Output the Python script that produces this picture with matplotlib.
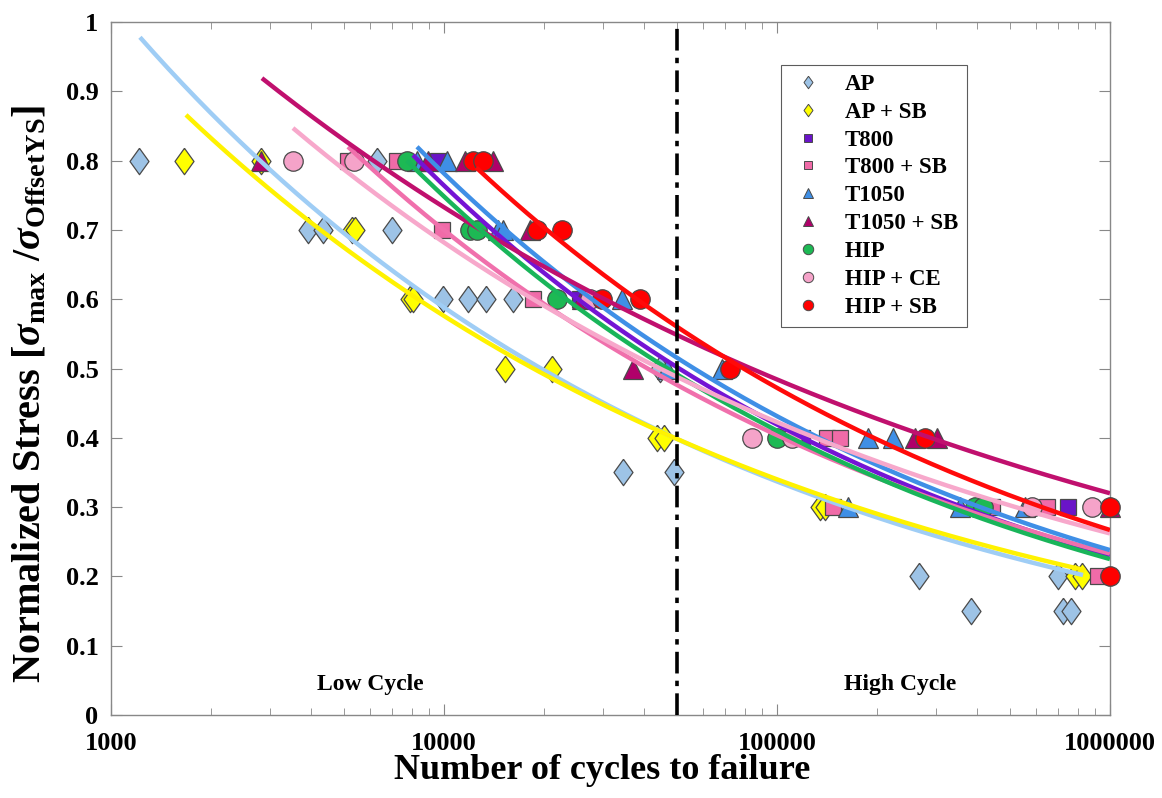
import numpy as np
import matplotlib
matplotlib.use("Agg")
import matplotlib.pyplot as plt
from matplotlib.lines import Line2D
from matplotlib.ticker import FixedLocator, FixedFormatter, LogLocator, NullFormatter

plt.rcParams['font.family'] = ['Liberation Serif', 'DejaVu Serif']
plt.rcParams['font.weight'] = 'bold'
plt.rcParams['mathtext.fontset'] = 'custom'
plt.rcParams['mathtext.rm'] = 'Liberation Serif:bold'
plt.rcParams['mathtext.bf'] = 'Liberation Serif:bold'
plt.rcParams['mathtext.it'] = 'Liberation Serif:italic'

# ---------------- data ----------------
series_names = ['AP', 'AP + SB', 'T800', 'T800 + SB', 'T1050', 'T1050 + SB',
                'HIP', 'HIP + CE', 'HIP + SB']

ap_n = [1214, 6300, 3900, 4340, 6980, 9930, 11800, 13400, 16100, 44600,
        34500, 49100, 267000, 698000, 383000, 723000, 764000]
ap_s = [0.8, 0.8, 0.7, 0.7, 0.7, 0.6, 0.6, 0.6, 0.6, 0.5,
        0.35, 0.35, 0.2, 0.2, 0.15, 0.15, 0.15]

apsb_n = [1660, 2820, 5300, 5400, 7900, 8100, 15300, 21100, 43600, 45800,
          135000, 139000, 785000, 824000]
apsb_s = [0.8, 0.8, 0.7, 0.7, 0.6, 0.6, 0.5, 0.5, 0.4, 0.4,
          0.3, 0.3, 0.2, 0.2]

t800_n = [9600, 25600, 119000, 748000]
t800_s = [0.8, 0.6, 0.4, 0.3]

t800sb_n = [5150, 7230, 9860, 18500, 141000, 155000, 147000, 443000, 647000, 921000]
t800sb_s = [0.8, 0.8, 0.7, 0.6, 0.4, 0.4, 0.3, 0.3, 0.3, 0.2]

t1050_n = [8300, 10200, 14500, 15000, 34200, 46800, 68400, 188000, 223000,
           163000, 355000, 556000]
t1050_s = [0.8, 0.8, 0.7, 0.7, 0.6, 0.5, 0.5, 0.4, 0.4, 0.3, 0.3, 0.3]

t1050sb_n = [2820, 8960, 11600, 14000, 18100, 26000, 37000, 260000, 302000, 1000000]
t1050sb_s = [0.8, 0.8, 0.8, 0.8, 0.7, 0.6, 0.5, 0.4, 0.4, 0.3]

hip_n = [7740, 11970, 12560, 21800, 100000, 394000, 416000]
hip_s = [0.8, 0.7, 0.7, 0.6, 0.4, 0.3, 0.3]

hipce_n = [3520, 5370, 27400, 84100, 111000, 583000, 883000]
hipce_s = [0.8, 0.8, 0.6, 0.4, 0.4, 0.3, 0.3]

hipsb_n = [12200, 13100, 19000, 22600, 29800, 38800, 72300, 278000, 1000000, 1000000]
hipsb_s = [0.8, 0.8, 0.7, 0.7, 0.6, 0.6, 0.5, 0.4, 0.3, 0.2]

# power-law fit curves: start / end points
fit_n_start = [1222, 1680, 8070, 5150, 8300, 2840, 7740, 3520, 12500]
fit_s_start = [0.978, 0.866, 0.808, 0.82, 0.82, 0.919, 0.80, 0.847, 0.79]
fit_n_end = [830000, 841000, 1000000, 1000000, 1000000, 1000000, 1000000, 1000000, 1000000]
fit_s_end = [0.202, 0.209, 0.230, 0.233, 0.238, 0.320, 0.225, 0.262, 0.267]

x_ticks = [1000, 10000, 100000, 1000000]
x_tick_labels = ['1000', '10000', '100000', '1000000']
y_ticks = [0, 0.1, 0.2, 0.3, 0.4, 0.5, 0.6, 0.7, 0.8, 0.9, 1.0]
y_tick_labels = ['0', '0.1', '0.2', '0.3', '0.4', '0.5', '0.6', '0.7', '0.8', '0.9', '1']
boundary_cycles = 50000

# ---------------- style ----------------
diamond = [(0, 1), (0.72, 0), (0, -1), (-0.72, 0), (0, 1)]
markers = [diamond, diamond, 's', 's', '^', '^', 'o', 'o', 'o']
msizes = [19, 19, 11, 11, 14.5, 14.5, 14, 14, 14]
leg_sizes = [9, 9, 6, 6, 7.5, 7.5, 7.5, 7.5, 7.5]
face_colors = ['#9DC3E6', '#FFFF00', '#6A14C8', '#F06BA8', '#3F8FE6', '#B0006A',
               '#1DB954', '#F5A3C9', '#FF0000']
line_colors = ['#9FCDF5', '#FFF200', '#7414D4', '#F070AC', '#3F8FE6', '#C0106E',
               '#19B55A', '#F7A8CB', '#FF0A0A']

data_n = [ap_n, apsb_n, t800_n, t800sb_n, t1050_n, t1050sb_n, hip_n, hipce_n, hipsb_n]
data_s = [ap_s, apsb_s, t800_s, t800sb_s, t1050_s, t1050sb_s, hip_s, hipce_s, hipsb_s]

fig = plt.figure(figsize=(11.62, 7.98), dpi=100)
ax = fig.add_axes([0.0955, 0.104, 0.8597, 0.8684])

handles = []
for i, name in enumerate(series_names):
    ax.plot(data_n[i], data_s[i], linestyle='none', marker=markers[i],
            markersize=msizes[i], markerfacecolor=face_colors[i],
            markeredgecolor='#4A4A4A', markeredgewidth=0.9,
            clip_on=False, zorder=3)
    handles.append(Line2D([], [], linestyle='none', marker=markers[i],
                          markersize=leg_sizes[i], markerfacecolor=face_colors[i],
                          markeredgecolor='#4A4A4A', markeredgewidth=0.7, label=name))

for i in range(len(series_names)):
    b = np.log(fit_s_end[i] / fit_s_start[i]) / np.log(fit_n_end[i] / fit_n_start[i])
    nn = np.geomspace(fit_n_start[i], fit_n_end[i], 200)
    ss = fit_s_start[i] * (nn / fit_n_start[i]) ** b
    ax.plot(nn, ss, color=line_colors[i], linewidth=3.2, zorder=4,
            solid_capstyle='butt')

ax.axvline(boundary_cycles, color='black', linestyle=(0, (6, 2, 1.5, 2)),
           linewidth=2.6, zorder=5)

ax.set_xscale('log')
ax.set_xlim(1000, 1000000)
ax.set_ylim(0, 1)
ax.xaxis.set_major_locator(FixedLocator(x_ticks))
ax.xaxis.set_major_formatter(FixedFormatter(x_tick_labels))
ax.xaxis.set_minor_locator(LogLocator(base=10, subs=np.arange(2, 10)))
ax.xaxis.set_minor_formatter(NullFormatter())
ax.yaxis.set_major_locator(FixedLocator(y_ticks))
ax.yaxis.set_major_formatter(FixedFormatter(y_tick_labels))

for sp in ax.spines.values():
    sp.set_color('#888888')
    sp.set_linewidth(1.0)
ax.tick_params(axis='both', which='both', direction='in', top=True, right=True,
               colors='#888888', labelcolor='black')
ax.tick_params(axis='both', which='major', length=8, labelsize=19)
ax.tick_params(axis='y', which='major', pad=9)
ax.tick_params(axis='x', which='major', pad=12)
ax.tick_params(axis='x', which='minor', length=5)
for lab in ax.get_xticklabels() + ax.get_yticklabels():
    lab.set_fontweight('bold')

ax.set_xlabel('Number of cycles to failure', fontsize=26, fontweight='bold')
ax.xaxis.set_label_coords(0.4915, -0.056)
ax.set_ylabel(r'Normalized Stress [$\sigma_{\mathbf{max}}\ /\sigma_{\mathbf{OffsetYS}}$]',
              fontsize=29, fontweight='bold')
ax.yaxis.set_label_coords(-0.062, 0.463)

ax.text(0.26, 0.044, 'Low Cycle', transform=ax.transAxes, fontsize=17,
        fontweight='bold', ha='center', va='center')
ax.text(0.79, 0.044, 'High Cycle', transform=ax.transAxes, fontsize=17,
        fontweight='bold', ha='center', va='center')

leg = ax.legend(handles=handles, loc='upper left', bbox_to_anchor=(0.671, 0.938),
                fontsize=16.5, labelspacing=0.3, handlelength=1.6,
                handletextpad=0.8, borderpad=0.38, fancybox=False, frameon=True,
                borderaxespad=0)
leg.get_frame().set_edgecolor('#333333')
leg.get_frame().set_linewidth(0.8)
for t in leg.get_texts():
    t.set_fontweight('bold')

fig.savefig('out.png', dpi=100)
